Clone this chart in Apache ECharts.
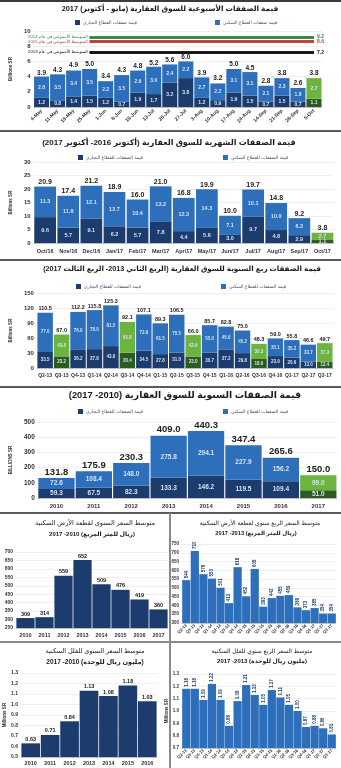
<!DOCTYPE html>
<html><head><meta charset="utf-8">
<script src="https://cdn.jsdelivr.net/npm/echarts/dist/echarts.min.js"></script>
<style>html,body{margin:0;padding:0;background:#fff}#c{width:341px;height:768px}</style>
</head><body><div id="c"></div><script>
// ---- weekly deals (billions SR) ----
const weekCats = ['4-May','11-May','18-May','25-May','1-Jun','8-Jun','15-Jun','13-Jul','20-Jul','27-Jul','3-Aug','10-Aug','17-Aug','24-Aug','14-Sep','21-Sep','28-Sep','5-Oct'];
const weekCommercial = [1.2,0.8,1.4,1.5,1.2,0.7,1.9,1.7,3.2,3.8,1.2,0.9,1.9,1.5,0.7,1.5,0.7,1.1];
const weekResidential = [2.8,3.5,3.4,3.5,2.2,3.5,2.9,3.6,2.4,2.2,2.7,2.2,3.1,3.1,2.1,2.3,1.8,2.7];
const weekTotal = [3.9,4.3,4.9,5.0,3.4,4.3,4.8,5.2,5.6,6.0,3.9,3.2,5.0,4.5,2.8,3.8,2.6,3.8];
const weekGreen = [17];
const weekAvgValues = [9.2, 8.6, 7.2];
const weekAvgNames = ['المتوسط الأسبوعي في عام 2014','المتوسط الأسبوعي في عام 2015','المتوسط الأسبوعي في عام 2013'];

// ---- monthly deals ----
const monthCats = ['Oct/16','Nov/16','Dec/16','Jan/17','Feb/17','Mar/17','Apr/17','May/17','Jun/17','Jul/17','Aug/17','Sep/17','Oct/17'];
const monthCommercial = [9.6,5.7,9.1,6.2,5.7,7.8,4.4,5.6,3.0,9.7,4.8,2.9,1.1];
const monthResidential = [11.3,11.8,12.1,12.7,10.4,13.2,12.3,14.3,7.1,10.1,10.0,6.3,2.7];
const monthTotal = [20.9,17.4,21.2,18.9,16.0,21.0,16.8,19.9,10.0,19.7,14.8,9.2,3.8];
const monthGreen = [12];

// ---- quarterly deals ----
const quarterCats = ['Q2-13','Q3-13','Q4-13','Q1-14','Q2-14','Q3-14','Q4-14','Q1-15','Q2-15','Q3-15','Q4-15','Q1-16','Q2-16','Q3-16','Q4-16','Q1-17','Q2-17','Q3-17'];
const quarterCommercial = [33.5,23.2,36.2,37.8,43.8,30.4,34.5,27.8,31.0,23.0,30.7,37.2,29.8,18.0,23.9,20.6,13.0,12.4];
const quarterResidential = [77.0,43.8,76.0,78.0,81.5,61.8,72.6,61.5,75.5,42.9,55.0,45.6,45.2,30.3,35.1,35.2,33.7,37.3];
const quarterTotal = [110.5,67.0,112.2,115.8,125.3,92.1,107.1,89.3,106.5,66.0,85.7,82.8,75.0,48.3,59.0,55.8,46.6,49.7];
const quarterGreen = [1,5,9,13,17];

// ---- annual deals ----
const yearCats = ['2010','2011','2012','2013','2014','2015','2016','2017'];
const yearCommercial = [59.3,67.5,82.3,133.3,146.2,119.5,109.4,51.0];
const yearResidential = [72.6,108.4,148.0,275.8,294.1,227.9,156.2,99.0];
const yearTotal = [131.8,175.9,230.3,409.0,440.3,347.4,265.6,150.0];
const yearGreen = [7];

// ---- prices ----
const landYearCats = ['2010','2011','2012','2013','2014','2015','2016','2017'];
const landYearPrice = [309,314,559,652,509,476,419,360];
const landQuarterPrice = [544,710,578,553,501,413,618,452,608,393,442,455,459,389,373,385,354,354];
const villaYearCats = ['2010','2011','2012','2013','2014','2015','2016'];
const villaYearPrice = [0.63,0.71,0.84,1.13,1.08,1.18,1.03];
const villaQuarterPrice = [1.18,1.18,1.09,1.22,1.09,0.88,1.08,1.21,1.13,1.05,1.17,1.11,1.05,1.00,0.87,0.88,0.86,0.81];

const FONT = '"Liberation Sans", "DejaVu Sans", sans-serif';
const NAVY = '#1d3c6e', BLUE = '#2e6fbc', GREEN_L = '#6db43e', GREEN_D = '#2d5a1f', INNER = '#d3e2f4';
const rtl = s => '\u200F' + s + '\u200F';

const nameW = ['قيمة صفقات القطاع التجاري','قيمة صفقات القطاع السكني'];
const nameM = ['قيمة الصفقات للقطاع التجاري','قيمة الصفقات للقطاع السكني'];

const grids = [
  {left:25, top:31, width:297, height:76},
  {left:27, top:162, width:307, height:81},
  {left:27, top:293, width:306, height:75},
  {left:26, top:422, width:311, height:76},
  {left:16, top:552, width:152, height:76},
  {left:182, top:544, width:154, height:79},
  {left:21, top:673, width:136, height:84},
  {left:182, top:674, width:154, height:74}
];

function xAx(gi, cats, fs, rotate, margin) {
  return {type:'category', gridIndex:gi, data:cats, axisTick:{show:false},
    axisLine:{lineStyle:{color:'#bfbfbf'}},
    axisLabel:{interval:0, fontSize:fs, fontWeight:'bold', color:'#333', fontFamily:FONT, rotate:rotate, margin:margin}};
}
function yAx(gi, min, max, step, fs, name, nameGap, dec) {
  return {type:'value', gridIndex:gi, min:min, max:max, interval:step,
    axisLabel:{fontSize:fs, fontWeight:'bold', color:'#333', fontFamily:FONT, margin:3,
      formatter: v => dec ? v.toFixed(dec) : String(Math.round(v))},
    splitLine:{lineStyle:{color:'#e4e4e4', width:0.6}}, axisLine:{show:false}, axisTick:{show:false},
    name:name || '', nameLocation:'middle', nameGap:nameGap || 10, nameRotate:90,
    nameTextStyle:{fontSize:4.5, fontWeight:'bold', color:'#333', fontFamily:FONT}};
}

function stacked(gi, com, res, tot, greens, names, st) {
  const paint = (arr, green) => arr.map((v, i) => greens.includes(i) ? {value:v, itemStyle:{color:green}} : v);
  const common = {type:'bar', xAxisIndex:gi, yAxisIndex:gi, barCategoryGap:st.gap, barGap:'-100%'};
  const inner = {show:true, position:'inside', fontSize:st.inner, color:INNER, fontFamily:FONT, fontWeight:'bold',
    formatter: p => Number(p.value).toFixed(1)};
  return [
    Object.assign({}, common, {name:names[0], stack:'s'+gi, data:paint(com, GREEN_D), itemStyle:{color:NAVY}, label:inner}),
    Object.assign({}, common, {name:names[1], stack:'s'+gi, data:paint(res, GREEN_L), itemStyle:{color:BLUE}, label:inner}),
    Object.assign({}, common, {name:'total'+gi, data:tot, itemStyle:{color:'rgba(0,0,0,0)'}, silent:true,
      label:{show:true, position:'top', distance:1, fontSize:st.total, fontWeight:'bold', color:'#222', fontFamily:FONT,
        formatter: p => Number(p.value).toFixed(1)}})
  ];
}

const avgColors = ['#2f8a3c', '#c0393b', '#111111'];
const weekSeries = stacked(0, weekCommercial, weekResidential, weekTotal, weekGreen, nameW, {gap:'6%', inner:5, total:6.5});
weekSeries[2].markLine = {
  symbol:'none', silent:true, animation:false,
  data: weekAvgValues.map((v, i) => [
    {coord:[weekCats[3], v], lineStyle:{color:avgColors[i], width:2.6, type:'solid'},
     label:{show:true, position:'end', distance:3, formatter: v.toFixed(1), color:avgColors[i], fontSize:5, fontWeight:'bold', fontFamily:FONT}},
    {coord:[weekCats[17], v]}
  ]).concat(weekAvgValues.map((v, i) => [
    {coord:[weekCats[3], v], lineStyle:{color:avgColors[i], width:2.6, type:'solid'},
     label:{show:true, position:'start', distance:2, formatter: rtl(weekAvgNames[i]), color:avgColors[i], fontSize:4.3, fontFamily:FONT}},
    {coord:[weekCats[17], v]}
  ]))
};

function priceBars(gi, data, color, lab) {
  return {type:'bar', xAxisIndex:gi, yAxisIndex:gi, data:data, barCategoryGap:lab.gap, itemStyle:{color:color},
    label:Object.assign({show:true, position:'top', distance:lab.dist || 1, fontSize:lab.fs, fontWeight:'bold',
      color:lab.color, fontFamily:FONT, formatter: p => lab.dec ? Number(p.value).toFixed(lab.dec) : String(p.value)},
      lab.rotate ? {rotate:90, align:'left', verticalAlign:'middle'} : {})};
}

const titleStyle = (fs, bold) => ({fontSize:fs, fontWeight:bold ? 'bold' : 'normal', color:'#1a1a1a', fontFamily:FONT});
function title(text, x, y, fs, bold) {
  return {text: rtl(text), left:x, top:y, textAlign:'center', padding:0, textStyle:titleStyle(fs, bold)};
}

function legend(names, left, top, gap) {
  return {data:names, left:left, top:top, itemWidth:5, itemHeight:5, itemGap:gap, icon:'rect', padding:0,
    textStyle:{fontSize:4.6, color:'#44546a', fontFamily:FONT, padding:[0,0,0,-2]}};
}

const option = {
  animation:false,
  backgroundColor:'#ffffff',
  title:[
    title('قيمة الصفقات الأسبوعية للسوق العقارية (مايو - أكتوبر) 2017', 170, 5, 7.4, true),
    title('قيمة الصفقات الشهرية للسوق العقارية (أكتوبر 2016- أكتوبر 2017)', 169, 139, 8, true),
    title('قيمة الصفقات ربع السنوية للسوق العقارية (الربع الثاني 2013- الربع الثالث 2017)', 182, 266, 7.2, true),
    title('قيمة الصفقات السنوية للسوق العقارية (2010- 2017)', 185, 391, 9.3, true),
    title('متوسط السعر السنوي لقطعة الأرض السكنية', 95, 520, 6.5, false),
    title('(ريال للمتر المربع) 2010- 2017', 92, 531, 6, true),
    title('متوسط السعر الربع سنوي لقطعة الأرض السكنية', 260, 520, 6, false),
    title('(ريال للمتر المربع) 2013- 2017', 256, 530, 5.7, true),
    title('متوسط السعر السنوي للفلل السكنية', 95, 648, 6.5, false),
    title('(مليون ريال للوحدة) 2010- 2017', 95, 659, 6.5, true),
    title('متوسط السعر الربع سنوي للفلل السكنية', 262, 648, 6, false),
    title('(مليون ريال للوحدة) 2013- 2017', 262, 658, 6, true)
  ],
  legend:[
    legend(nameW, 75, 20, 78),
    legend(nameM, 78, 155, 80),
    legend(nameM, 76, 284, 80),
    legend(nameM, 78, 409, 80)
  ],
  grid: grids,
  xAxis:[
    xAx(0, weekCats, 5, 45, 3),
    xAx(1, monthCats, 5.5, 0, 5),
    xAx(2, quarterCats, 5, 0, 5),
    xAx(3, yearCats, 6, 0, 5),
    xAx(4, landYearCats, 5.5, 0, 4),
    xAx(5, quarterCats, 4.2, 45, 2),
    xAx(6, villaYearCats, 5.5, 0, 3),
    xAx(7, quarterCats, 4.2, 45, 2)
  ],
  yAxis:[
    yAx(0, 0, 10, 2, 6, 'Billions SR', 11),
    yAx(1, 0, 30, 5, 6, 'Billions SR', 13),
    yAx(2, 0, 150, 30, 6, 'Billions SR', 16),
    yAx(3, 0, 500, 100, 6.5, 'BILLIONS SR', 17),
    yAx(4, 250, 700, 50, 5, '', 10),
    yAx(5, 300, 750, 50, 4.5, '', 10),
    yAx(6, 0.5, 1.3, 0.1, 5, 'Millions SR', 14, 1),
    yAx(7, 0.7, 1.3, 0.1, 4.5, 'Millions SR', 13, 1)
  ],
  series: [].concat(
    weekSeries,
    stacked(1, monthCommercial, monthResidential, monthTotal, monthGreen, nameM, {gap:'6%', inner:5.5, total:7}),
    stacked(2, quarterCommercial, quarterResidential, quarterTotal, quarterGreen, nameM, {gap:'6%', inner:4.5, total:5.5}),
    stacked(3, yearCommercial, yearResidential, yearTotal, yearGreen, nameM, {gap:'3%', inner:6.5, total:9.5}),
    [
      priceBars(4, landYearPrice, NAVY, {gap:'4%', fs:5.5, color:'#1a1a1a'}),
      priceBars(5, landQuarterPrice, BLUE, {gap:'4%', fs:4.5, color:'#1d3c6e', rotate:true, dist:2}),
      priceBars(6, villaYearPrice, NAVY, {gap:'4%', fs:5.5, color:'#1a1a1a', dec:2}),
      priceBars(7, villaQuarterPrice, BLUE, {gap:'4%', fs:4.5, color:'#1d3c6e', rotate:true, dist:2, dec:2})
    ]
  ),
  graphic:[
    {type:'rect', shape:{x:0, y:0, width:341, height:2}, style:{fill:'#3c3c3c'}, silent:true},
    {type:'rect', shape:{x:0, y:130, width:341, height:2}, style:{fill:'#5a5a5a'}, silent:true},
    {type:'rect', shape:{x:0, y:259, width:341, height:2}, style:{fill:'#5a5a5a'}, silent:true},
    {type:'rect', shape:{x:0, y:386, width:341, height:2}, style:{fill:'#5a5a5a'}, silent:true},
    {type:'rect', shape:{x:0, y:512, width:341, height:2}, style:{fill:'#5a5a5a'}, silent:true},
    {type:'rect', shape:{x:0, y:641, width:341, height:2}, style:{fill:'#8a8a8a'}, silent:true},
    {type:'rect', shape:{x:169, y:513, width:2, height:255}, style:{fill:'#8a8a8a'}, silent:true}
  ]
};

const chart = echarts.init(document.getElementById('c'), null, {renderer:'canvas', width:341, height:768});
chart.setOption(option);
</script></body></html>
